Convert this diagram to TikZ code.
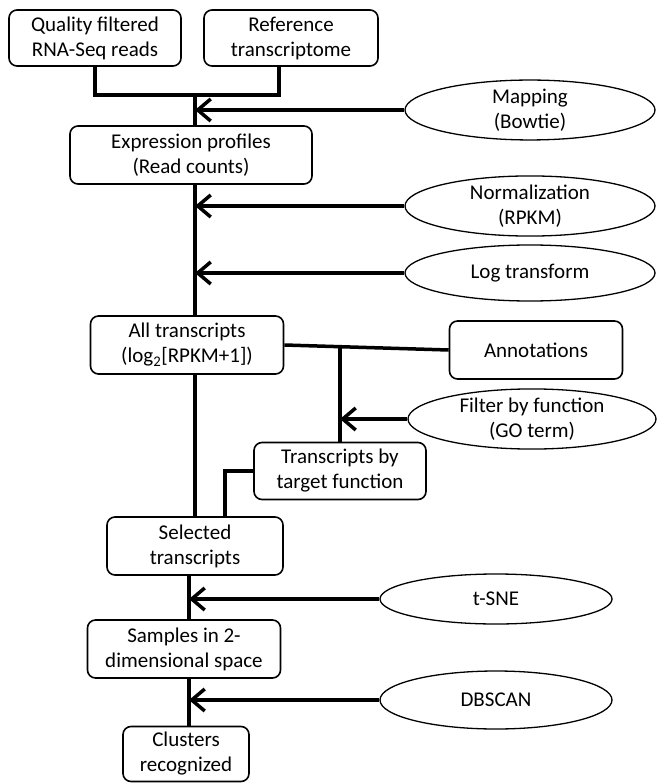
\documentclass[tikz,border=0pt]{standalone}
\usepackage{fontspec}
\setmainfont{Carlito}
\usetikzlibrary{shapes.geometric,arrows.meta}

\begin{document}
\begin{tikzpicture}[x=1pt, y=-1pt,
    font=\fontsize{21}{25}\selectfont,
    block/.style={rectangle, draw, rounded corners=8pt, line width=1.6pt, align=center, inner sep=0pt},
    method/.style={ellipse, draw, line width=1.3pt, align=center, inner sep=0pt, minimum width=250pt, minimum height=56pt},
    link/.style={line width=3.5pt},
    arrow/.style={link, -{Straight Barb[length=13pt,width=22pt]}}
]
\useasboundingbox (0,0) rectangle (657,783);

% Inputs
\node[block, minimum width=172pt, minimum height=56pt] (qual) at (95,38) {Quality filtered\\RNA-Seq reads};
\node[block, minimum width=174pt, minimum height=56pt] (ref) at (291,38) {Reference\\transcriptome};

% Mapping
\node[method] (map) at (530,110) {Mapping\\(Bowtie)};

% Expression profiles
\node[block, minimum width=242pt, minimum height=58pt] (expr) at (191,155) {Expression profiles\\(Read counts)};

% Normalization and log
\node[method] (norm) at (530,206) {Normalization\\(RPKM)};
\node[method] (logt) at (530,273) {Log transform};

% All transcripts
\node[block, minimum width=193pt, minimum height=58pt] (allt) at (187,345) {All transcripts\\(log\textsubscript{2}[RPKM+1])};

% Annotations
\node[block, minimum width=173pt, minimum height=58pt] (annot) at (536,350) {Annotations};

% Filter by function
\node[method, minimum width=248pt, minimum height=57pt] (filt) at (532,419) {Filter by function\\(GO term)};

% Transcripts by target function
\node[block, minimum width=172pt, minimum height=57pt] (trans) at (340,471) {Transcripts by\\target function};

% Selected transcripts
\node[block, minimum width=176pt, minimum height=58pt] (sel) at (195,546) {Selected\\transcripts};

% t-SNE
\node[method, minimum width=232pt, minimum height=50pt] (tsne) at (496,599) {t-SNE};

% Samples in 2D
\node[block, minimum width=193pt, minimum height=58pt] (samp) at (184,649) {Samples in 2-\\dimensional space};

% DBSCAN
\node[method, minimum width=232pt, minimum height=58pt] (dbscan) at (496,700) {DBSCAN};

% Clusters
\node[block, minimum width=126pt, minimum height=55pt] (clus) at (186,754) {Clusters\\recognized};

% Trunk
\coordinate (top) at (195,95);
\coordinate (branch) at (340,347);
\coordinate (low) at (189,0);

\draw[link] (qual.south) |- (top) -| ([xshift=-12pt]ref.south);
\draw[link] (top) -- (top |- expr.north);
\draw[arrow] (map.west) -- (map.west -| top);
\draw[link] (top |- expr.south) -- (top |- allt.north);
\draw[arrow] (norm.west) -- (norm.west -| top);
\draw[arrow] (logt.west) -- (logt.west -| top);
\draw[link] (top |- allt.south) -- (top |- sel.north);

% Side branch
\draw[link] (allt.east) -- (annot.west);
\draw[link] (branch) -- (trans.north);
\draw[arrow] (filt.west) -- (filt.west -| trans.north);
\draw[link] (trans.west) -| ([xshift=30pt]sel.north);

% Lower part
\draw[link] (low |- sel.south) -- (low |- samp.north);
\draw[arrow] (tsne.west) -- (tsne.west -| low);
\draw[link] (low |- samp.south) -- (low |- clus.north);
\draw[arrow] (dbscan.west) -- (dbscan.west -| low);

\end{tikzpicture}
\end{document}
